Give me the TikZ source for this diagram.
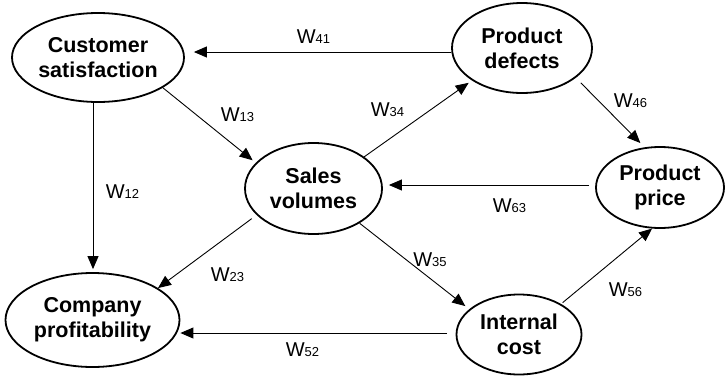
\documentclass[tikz,border=0pt]{standalone}
\usepackage{fontspec}
\setmainfont{Liberation Sans}
\usetikzlibrary{shapes.geometric,arrows.meta}
\newcommand\wlab[1]{W{\fontsize{13}{13}\selectfont #1}}
\begin{document}
\begin{tikzpicture}[x=1pt,y=-1pt,
  state/.style={ellipse,draw,line width=1.8pt,inner sep=0pt,align=center,
    font=\fontsize{21.5}{25}\selectfont\bfseries},
  arr/.style={-{Triangle[length=13pt,width=11pt]},line width=0.9pt},
  wl/.style={inner sep=0pt,font=\fontsize{20}{20}\selectfont}]
\useasboundingbox (0,0) rectangle (725,375);
\node[state,minimum width=172pt,minimum height=89pt] (cs) at (98,57.5) {Customer\\satisfaction};
\node[state,minimum width=140pt,minimum height=90pt] (pd) at (522,48) {Product\\defects};
\node[state,minimum width=137pt,minimum height=91pt] (sv) at (313.5,188.5) {Sales\\volumes};
\node[state,minimum width=128pt,minimum height=81pt] (pp) at (660,187.5) {Product\\price};
\node[state,minimum width=174pt,minimum height=94pt] (cp) at (92.5,320) {Company\\profitability};
\node[state,minimum width=125pt,minimum height=80pt] (ic) at (519,334.5) {Internal\\cost};

\draw[arr] ([yshift=-4pt]pd.west) -- ([xshift=9pt,yshift=-4pt]pd.west -| cs.east);
\draw[arr,shorten >=4pt] (cs.-25.8) -- (sv.156.7);
\draw[arr] ([xshift=-5pt]cs.south) -- ([xshift=-5pt,yshift=3pt]cp.north -| cs.south);
\draw[arr,shorten >=4pt] (sv.32.2) -- (pd.213.9);
\draw[arr,shorten <=7pt,shorten >=6pt] (pd.-29.2) -- (pp.111.6);
\draw[arr] ([xshift=-6pt,yshift=2.5pt]pp.west) -- ([xshift=6pt,yshift=2.5pt]pp.west -| sv.east);
\draw[arr,shorten <=6pt] (sv.205.6) -- (cp.26.4);
\draw[arr,shorten >=5pt] (sv.-37.6) -- (ic.153.9);
\draw[arr,shorten <=2pt] (ic.36.2) -- (pp.-101.2);
\draw[arr] ([xshift=-8.5pt,yshift=1.5pt]ic.west) -- ([yshift=1.5pt]ic.west -| cp.east);

\node[wl] (l41) at (313.5,37) {\wlab{41}};
\node[wl] (l13) at (237.5,114.5) {\wlab{13}};
\node[wl] (l34) at (387.5,110) {\wlab{34}};
\node[wl] (l46) at (630.5,100.5) {\wlab{46}};
\node[wl] (l12) at (122.5,191.5) {\wlab{12}};
\node[wl] (l23) at (227.5,275) {\wlab{23}};
\node[wl] (l63) at (509.5,205.5) {\wlab{63}};
\node[wl] (l35) at (430,260) {\wlab{35}};
\node[wl] (l56) at (625.5,290) {\wlab{56}};
\node[wl] (l52) at (302.5,349.5) {\wlab{52}};
\end{tikzpicture}
\end{document}
